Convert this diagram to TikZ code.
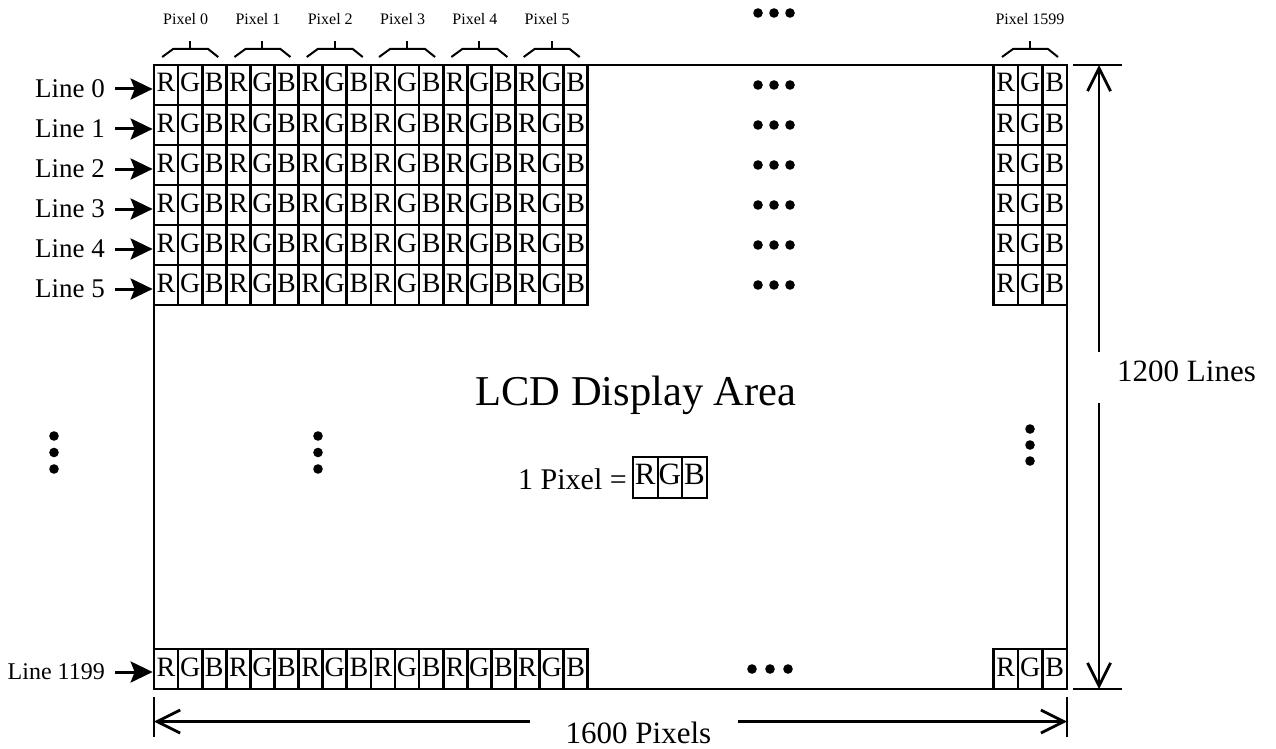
\documentclass[tikz,border=0pt]{standalone}
\usepackage{fontspec}
\setmainfont{Liberation Serif}
\usetikzlibrary{arrows.meta}
\tikzset{
  cell/.style={draw, line width=2.7pt, minimum width=24.1pt, minimum height=40pt, inner sep=0pt,
    text height=19pt, text depth=5pt, font=\fontsize{28}{30}\selectfont},
  rcell/.style={cell, minimum width=24.6pt},
  lcell/.style={draw, line width=2.2pt, minimum width=24.6pt, minimum height=41pt, inner sep=0pt,
    text height=21pt, text depth=8pt, font=\fontsize{31}{33}\selectfont},
  linelab/.style={inner sep=0pt, anchor=east, font=\fontsize{27}{30}\selectfont},
  pixlab/.style={inner sep=0pt, font=\fontsize{16}{18}\selectfont},
  dimlab/.style={inner sep=0pt, font=\fontsize{31}{33}\selectfont},
  linearrow/.style={line width=3pt, -{Stealth[length=22pt,width=21pt,inset=4pt]}},
  dimarrow/.style={line width=2.8pt, -{Straight Barb[length=23pt,width=23pt]}},
  extline/.style={line width=1.5pt},
  bracket/.style={line width=2pt},
  dot/.style={fill=black},
}
\begin{document}
\begin{tikzpicture}[x=1pt,y=-1pt]
\useasboundingbox (0,0) rectangle (1276,749);

% display area
\node[draw, line width=2.7pt, minimum width=913pt, minimum height=624pt, inner sep=0pt] (lcd) at (610.5,377) {};

% top-left grid rows 0..5
\foreach \r in {0,...,5}{
  \foreach \k in {0,...,5}{
    \foreach \ch [count=\i from 0] in {R,G,B}{
      \pgfmathsetmacro\xx{154+24.1*(3*\k+\i)+12.05}
      \node[cell] (g\r-\k-\i) at (\xx,{85+40*\r}) {\ch};
    }
  }
  \foreach \ch [count=\i from 0] in {R,G,B}{
    \pgfmathsetmacro\xx{993.3+24.6*\i+12.3}
    \node[rcell] (e\r-\i) at (\xx,{85+40*\r}) {\ch};
  }
  \node[linelab] (L\r) at (105,{89+40*\r}) {Line \r};
  \draw[linearrow] ([xshift=10pt]L\r.east) -- (L\r.east -| lcd.west);
  \foreach \xd in {758,774,790}{\fill[dot] (\xd,{85+40*\r}) circle (4.8pt);}
}

% bottom row
\foreach \k in {0,...,5}{
  \foreach \ch [count=\i from 0] in {R,G,B}{
    \pgfmathsetmacro\xx{154+24.1*(3*\k+\i)+12.05}
    \node[cell] (b-\k-\i) at (\xx,669) {\ch};
  }
}
\foreach \ch [count=\i from 0] in {R,G,B}{
  \pgfmathsetmacro\xx{993.3+24.6*\i+12.3}
  \node[rcell] (be-\i) at (\xx,669) {\ch};
}
\node[linelab, font=\fontsize{24}{26}\selectfont] (Lb) at (105,672) {Line 1199};
\draw[linearrow] ([xshift=10pt]Lb.east) -- (Lb.east -| lcd.west);
\foreach \xd in {752,770,788}{\fill[dot] (\xd,669) circle (4.8pt);}

% top dots
\foreach \xd in {758,774,790}{\fill[dot] (\xd,13) circle (4.8pt);}

% pixel labels and brackets
\foreach \k in {0,...,5}{
  \pgfmathsetmacro\cx{190.15+72.3*\k}
  \node[pixlab] (P\k) at ({\cx-4.5},19) {Pixel \k};
  \draw[bracket] ({\cx-28},57) -- ({\cx-17},49) -- ({\cx+18},49) -- ({\cx+28},57);
  \draw[bracket] (\cx,49) -- (\cx,41);
}
\node[pixlab] (Plast) at (1030,19) {Pixel 1599};
\draw[bracket] (1002,57) -- (1013,49) -- (1048,49) -- (1058,57);
\draw[bracket] (1030,49) -- (1030,41);

% vertical dots
\foreach \yd in {436,452.5,469}{
  \fill[dot] (54,\yd) circle (4.8pt);
  \fill[dot] (318,\yd) circle (4.8pt);
}
\foreach \yd in {429,445,461}{\fill[dot] (1030,\yd) circle (4.8pt);}

% center texts
\node[inner sep=0pt, anchor=base, font=\fontsize{42.5}{45}\selectfont] (title) at (636,405) {LCD Display Area};
\node[inner sep=0pt, anchor=base east, font=\fontsize{30}{32}\selectfont] (onepix) at (627,489) {1 Pixel =};
\foreach \ch [count=\i from 0] in {R,G,B}{
  \pgfmathsetmacro\xx{633+24.6*\i+12.3}
  \node[lcell] (lg\i) at (\xx,477.5) {\ch};
}

% vertical dimension
\draw[extline] (1073,65) -- (1122,65);
\draw[extline] (1073,689) -- (1122,689);
\coordinate (vt) at (1099,65);
\coordinate (vb) at (1099,689);
\coordinate (vg1) at (1099,352);
\coordinate (vg2) at (1099,403);
\draw[dimarrow] (vg1) -- (vt);
\draw[dimarrow] (vg2) -- (vb);
\node[dimlab, anchor=west] (t1200) at (1117,371) {1200 Lines};

% horizontal dimension
\draw[extline] (154,697) -- (154,737);
\draw[extline] (1067,697) -- (1067,737);
\coordinate (hl) at (154,721.5);
\coordinate (hr) at (1067,721.5);
\coordinate (hg1) at (530,721.5);
\coordinate (hg2) at (738,721.5);
\draw[dimarrow] (hg1) -- (hl);
\draw[dimarrow] (hg2) -- (hr);
\node[dimlab] (t1600) at (638.5,732.5) {1600 Pixels};
\end{tikzpicture}
\end{document}
